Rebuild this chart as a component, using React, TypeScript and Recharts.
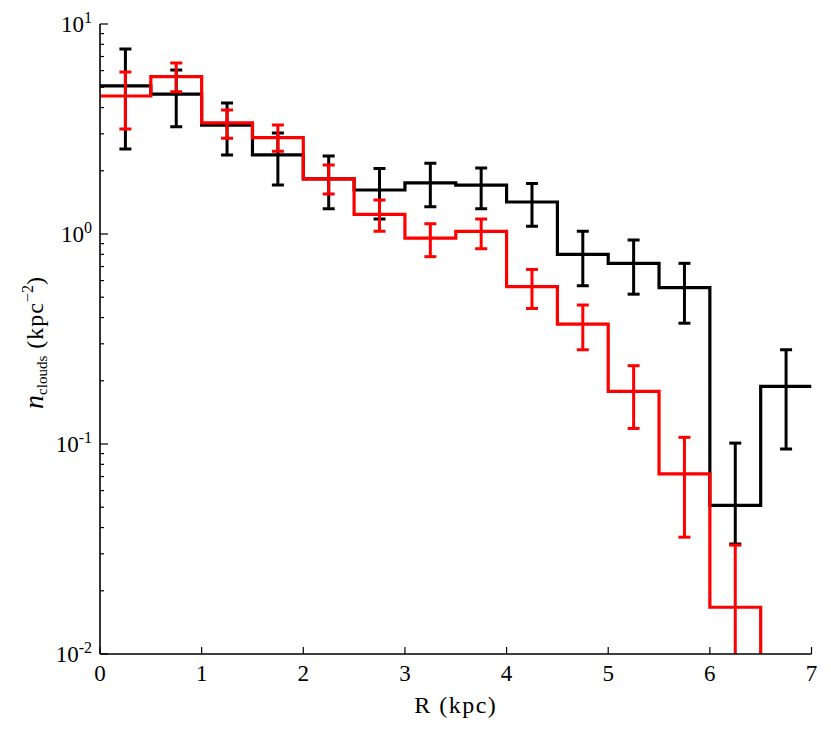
import React from "react";
import {
  ComposedChart,
  Line,
  Scatter,
  ErrorBar,
  XAxis,
  YAxis,
} from "recharts";

document.body.style.margin = "0";

// histogram bins (kpc)
const binEdges = [0, 0.5, 1, 1.5, 2, 2.5, 3, 3.5, 4, 4.5, 5, 5.5, 6, 6.5, 7];
const binCenters = [0.25, 0.75, 1.25, 1.75, 2.25, 2.75, 3.25, 3.75, 4.25, 4.75, 5.25, 5.75, 6.25, 6.75];

// black sample
const blackValues = [5.07, 4.64, 3.3, 2.38, 1.83, 1.62, 1.75, 1.71, 1.42, 0.8, 0.725, 0.555, 0.051, 0.188];
const blackLow = [2.54, 3.24, 2.38, 1.71, 1.32, 1.18, 1.35, 1.32, 1.09, 0.567, 0.517, 0.376, 0.0334, 0.0947];
const blackHigh = [7.6, 6.04, 4.21, 3.03, 2.35, 2.05, 2.17, 2.06, 1.74, 1.03, 0.936, 0.725, 0.101, 0.281];

// red sample (last bin lies below the plotted range)
const redValues = [4.54, 5.61, 3.38, 2.88, 1.83, 1.24, 0.955, 1.03, 0.561, 0.372, 0.178, 0.072, 0.0167, 0.001];
const redLow = [3.16, 4.76, 2.86, 2.48, 1.55, 1.03, 0.78, 0.851, 0.442, 0.281, 0.1186, 0.036, 0.005];
const redHigh = [5.91, 6.52, 3.89, 3.3, 2.13, 1.45, 1.12, 1.18, 0.678, 0.459, 0.236, 0.1076, 0.033];

const xTicks = [0, 1, 2, 3, 4, 5, 6, 7];
const yTicks = [
  0.01, 0.02, 0.03, 0.04, 0.05, 0.06, 0.07, 0.08, 0.09,
  0.1, 0.2, 0.3, 0.4, 0.5, 0.6, 0.7, 0.8, 0.9,
  1, 2, 3, 4, 5, 6, 7, 8, 9, 10,
];
const yTickLabels: Record<string, [string, string]> = {
  "0.01": ["10", "-2"],
  "0.1": ["10", "-1"],
  "1": ["10", "0"],
  "10": ["10", "1"],
};

const FONT = "Liberation Serif";
const INK = "#000";

// chart frame
const W = 831;
const H = 733;
const M = { top: 24, right: 19.5, bottom: 0, left: 0 };
const Y_AXIS_W = 100;
const X_AXIS_H = 79;

const steps = (values: number[]) =>
  binEdges.map((x, i) => ({ x, y: values[Math.min(i, values.length - 1)] }));

const bars = (values: number[], low: number[], high: number[]) =>
  low.map((lo, i) => ({
    x: binCenters[i],
    y: values[i],
    err: [values[i] - lo, high[i] - values[i]],
  }));

const blackSteps = steps(blackValues);
const redSteps = steps(redValues);
const blackBars = bars(blackValues, blackLow, blackHigh);
const redBars = bars(redValues, redLow, redHigh);

const isMajor = (v: number) => Math.abs(Math.log10(v) - Math.round(Math.log10(v))) < 1e-9;

function BottomTick(props: any) {
  const { x, y, payload } = props;
  return (
    <g>
      <line x1={x} x2={x} y1={y} y2={y - 7} stroke={INK} strokeWidth={1.2} />
      <text x={x} y={y + 27} textAnchor="middle" fontFamily={FONT} fontSize={23} fill={INK}>
        {payload.value}
      </text>
    </g>
  );
}

function TopTick(props: any) {
  const { x, y } = props;
  return <line x1={x} x2={x} y1={y} y2={y + 7} stroke={INK} strokeWidth={1.2} />;
}

function LeftTick(props: any) {
  const { x, y, payload } = props;
  const major = isMajor(payload.value);
  const label = yTickLabels[String(payload.value)];
  return (
    <g>
      <line x1={x} x2={x + (major ? 8 : 4)} y1={y} y2={y} stroke={INK} strokeWidth={1.2} />
      {major && label && (
        <text x={x - 8} y={y + 8} textAnchor="end" fontFamily={FONT} fontSize={23} fill={INK}>
          {label[0]}
          <tspan fontSize={16} dy={-9}>
            {label[1]}
          </tspan>
        </text>
      )}
    </g>
  );
}

function RightTick(props: any) {
  const { x, y, payload } = props;
  const major = isMajor(payload.value);
  return <line x1={x} x2={x - (major ? 8 : 4)} y1={y} y2={y} stroke={INK} strokeWidth={1.2} />;
}

function XLabel(props: any) {
  const { viewBox } = props;
  return (
    <text
      x={viewBox.x + viewBox.width / 2}
      y={viewBox.y + 59}
      textAnchor="middle"
      fontFamily={FONT}
      fontSize={24}
      letterSpacing={1.5}
      fill={INK}
    >
      R (kpc)
    </text>
  );
}

function YLabel(props: any) {
  const { viewBox } = props;
  const cx = 43;
  const cy = viewBox.y + viewBox.height / 2 + 4;
  return (
    <text
      x={cx}
      y={cy}
      transform={`rotate(-90 ${cx} ${cy})`}
      textAnchor="middle"
      fontFamily={FONT}
      fontSize={24}
      fill={INK}
    >
      <tspan fontStyle="italic" fontSize={28}>n</tspan>
      <tspan fontSize={15} dy={4}>clouds</tspan>
      <tspan dy={-4} letterSpacing={1}>{"  (kpc"}</tspan>
      <tspan fontSize={16} dy={-10}>−2</tspan>
      <tspan dy={10}>)</tspan>
    </text>
  );
}

const NoDot = () => <g />;

export default function App() {
  const plotX = M.left + Y_AXIS_W;
  const plotY = M.top;
  const plotW = W - M.right - plotX;
  const plotH = H - M.bottom - X_AXIS_H - plotY;
  return (
    <ComposedChart width={W} height={H} margin={M}>
      <defs>
        <clipPath id="plot-area-clip">
          <rect x={plotX} y={plotY} width={plotW} height={plotH} />
        </clipPath>
      </defs>
      <XAxis
        xAxisId="bottom"
        dataKey="x"
        type="number"
        domain={[0, 7]}
        ticks={xTicks}
        allowDataOverflow
        height={X_AXIS_H}
        tickSize={0}
        tickMargin={0}
        tickLine={false}
        axisLine={{ stroke: INK, strokeWidth: 1.6 }}
        tick={<BottomTick />}
        label={{ content: <XLabel /> }}
      />
      <XAxis
        xAxisId="top"
        orientation="top"
        dataKey="x"
        type="number"
        domain={[0, 7]}
        ticks={xTicks}
        allowDataOverflow
        height={0}
        tickSize={0}
        tickMargin={0}
        tickLine={false}
        axisLine={{ stroke: INK, strokeWidth: 1.6 }}
        tick={<TopTick />}
      />
      <YAxis
        yAxisId="left"
        dataKey="y"
        type="number"
        scale="log"
        domain={[0.01, 10]}
        ticks={yTicks}
        allowDataOverflow
        width={Y_AXIS_W}
        tickSize={0}
        tickMargin={0}
        tickLine={false}
        axisLine={{ stroke: INK, strokeWidth: 1.6 }}
        tick={<LeftTick />}
        interval={0}
        label={{ content: <YLabel /> }}
      />
      <YAxis
        yAxisId="right"
        orientation="right"
        dataKey="y"
        type="number"
        scale="log"
        domain={[0.01, 10]}
        ticks={yTicks}
        allowDataOverflow
        width={0}
        tickSize={0}
        tickMargin={0}
        tickLine={false}
        axisLine={{ stroke: INK, strokeWidth: 1.6 }}
        tick={<RightTick />}
        interval={0}
      />

      <Line
        xAxisId="bottom"
        yAxisId="left"
        data={blackSteps}
        dataKey="y"
        type="stepAfter"
        stroke="#000000"
        strokeWidth={3.2}
        dot={false}
        activeDot={false}
        isAnimationActive={false}
      />
      <Scatter
        xAxisId="bottom"
        yAxisId="left"
        data={blackBars}
        dataKey="y"
        shape={<NoDot />}
        isAnimationActive={false}
      >
        <ErrorBar
          dataKey="err"
          direction="y"
          width={6}
          stroke="#000000"
          strokeWidth={3}
          clipPath="url(#plot-area-clip)"
        />
      </Scatter>
      <Line
        xAxisId="bottom"
        yAxisId="left"
        data={redSteps}
        dataKey="y"
        type="stepAfter"
        stroke="#ff0000"
        strokeWidth={3.2}
        dot={false}
        activeDot={false}
        isAnimationActive={false}
      />
      <Scatter
        xAxisId="bottom"
        yAxisId="left"
        data={redBars}
        dataKey="y"
        shape={<NoDot />}
        isAnimationActive={false}
      >
        <ErrorBar
          dataKey="err"
          direction="y"
          width={6}
          stroke="#ff0000"
          strokeWidth={3}
          clipPath="url(#plot-area-clip)"
        />
      </Scatter>
    </ComposedChart>
  );
}
